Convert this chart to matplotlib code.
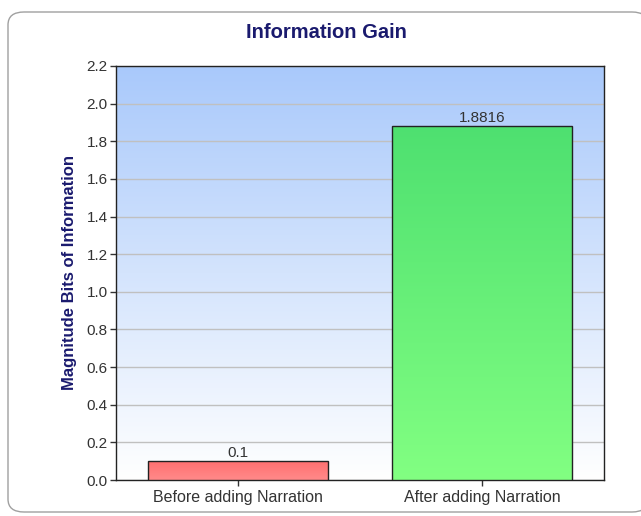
import matplotlib
matplotlib.use('Agg')
import matplotlib.pyplot as plt
import numpy as np
from matplotlib.colors import LinearSegmentedColormap
from matplotlib.patches import FancyBboxPatch

plt.rcParams['font.family'] = ['Liberation Sans', 'DejaVu Sans']

# ── DATA ────────────────────────────────────────────────────────────────────
categories = ['Before adding Narration', 'After adding Narration']
values     = [0.1, 1.8816]
labels     = ['0.1', '1.8816']
yticks     = [0.0, 0.2, 0.4, 0.6, 0.8, 1.0, 1.2, 1.4, 1.6, 1.8, 2.0, 2.2]
bar_grads  = [('#ff7070', '#ff8a8a'), ('#4ee070', '#82ff82')]   # (top, bottom)
# ─────────────────────────────────────────────────────────────────────────────

fig = plt.figure(figsize=(6.41, 5.16), dpi=100, facecolor='white')

# rounded frame around the chart
frame = FancyBboxPatch((8 / 641, 4 / 516), 640 / 641, 500 / 516,
                       boxstyle='round,pad=0,rounding_size=0.025',
                       transform=fig.transFigure, facecolor='white',
                       edgecolor='#a0a0a0', linewidth=1.0, zorder=-10)
fig.patches.append(frame)

ax = fig.add_axes([116 / 641, 1 - 480 / 516, 488 / 641, 414 / 516])
ax.set_zorder(1)
ax.set_xlim(-0.5, 1.5)
ax.set_ylim(0, 2.2)
ax.patch.set_alpha(0)

# background gradient: light blue at top, white at bottom
bg = LinearSegmentedColormap.from_list('bg', ['#ffffff', '#a9c9fb'])
grad = np.linspace(0, 1, 256).reshape(-1, 1)
ax.imshow(grad, cmap=bg, aspect='auto', extent=[-0.5, 1.5, 0, 2.2],
          origin='lower', zorder=0)

ax.set_yticks(yticks)
ax.set_yticklabels([f'{t:.1f}' for t in yticks])
ax.grid(axis='y', color='#c0c0c0', linewidth=1.0, zorder=1)

x = np.arange(len(categories))
bars = ax.bar(x, values, width=0.74, facecolor='none', edgecolor='#222222',
              linewidth=1.0, zorder=4)
for b, (top, bot) in zip(bars, bar_grads):
    cm = LinearSegmentedColormap.from_list('b', [bot, top])
    x0, y0 = b.get_x(), b.get_y()
    im = ax.imshow(grad, cmap=cm, aspect='auto', origin='lower',
                   extent=[x0, x0 + b.get_width(), y0, y0 + b.get_height()],
                   zorder=3)
    im.set_clip_path(b)

for xi, v, lab in zip(x, values, labels):
    ax.text(xi, v + 0.005, lab, ha='center', va='bottom', fontsize=11,
            color='#333333', zorder=5)

ax.set_xticks(x)
ax.set_xticklabels(categories)
ax.set_xlim(-0.5, 1.5)
ax.set_ylim(0, 2.2)
ax.tick_params(axis='both', direction='out', length=4, width=1,
               colors='#333333', labelsize=11, labelcolor='#333333', pad=2)
ax.tick_params(axis='x', labelsize=11.5, pad=3)
for s in ax.spines.values():
    s.set_color('#222222')
    s.set_linewidth(1.0)

ax.set_ylabel('Magnitude Bits of Information', fontsize=12,
              fontweight='bold', color='#1a1a6e', labelpad=7)
fig.text(326 / 641, 1 - 32 / 516, 'Information Gain', ha='center',
         va='center', fontsize=14.5, fontweight='bold', color='#1a1a6e')

fig.savefig('out.png', dpi=100)
